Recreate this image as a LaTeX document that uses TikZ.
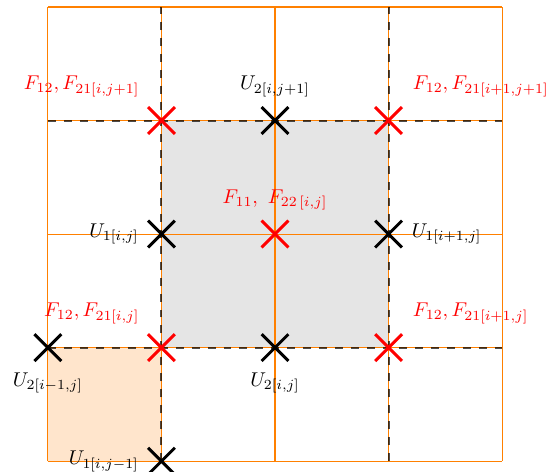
\documentclass[tikz,border=0pt]{standalone}
\usepackage{amsmath}
\usepackage{amssymb}
\usetikzlibrary{positioning,shapes.misc}

\begin{document}
\begin{tikzpicture}[
  crossblk/.style={cross out, draw=black, line width=1.5pt, minimum size=0.42cm, inner sep=0pt},
  crossred/.style={crossblk, draw=red},
  redlbl/.style={text=red},
  dashline/.style={black, opacity=0.7, line width=1pt, dash pattern=on 4pt off 4pt}
]

% Fixed margins
\useasboundingbox (-0.844,-0.176) rectangle (8.844,8.123);

% Shaded cells
\fill[black!10] (2,2) rectangle (6,6);
\fill[orange!20] (0,0) rectangle (2,2);

% Orange grid
\draw[orange, line width=0.52pt, step=2cm] (0,0) grid (8,8);

% Dashed cell edges
\draw[dashline] (2,0) -- (2,8);
\draw[dashline] (6,0) -- (6,8);
\draw[dashline] (0,2) -- (8,2);
\draw[dashline] (0,6) -- (8,6);

% Velocity points (black)
\node[crossblk] (c46) at (4,6) {};
\node[crossblk] (c24) at (2,4) {};
\node[crossblk] (c64) at (6,4) {};
\node[crossblk] (c02) at (0,2) {};
\node[crossblk] (c42) at (4,2) {};
\node[crossblk] (c20) at (2,0) {};

% Stress points (red)
\node[crossred] (c26) at (2,6) {};
\node[crossred] (c66) at (6,6) {};
\node[crossred] (c44) at (4,4) {};
\node[crossred] (c22) at (2,2) {};
\node[crossred] (c62) at (6,2) {};

% Labels
\node[redlbl, above left=0.06cm and 0.03cm of c26] (l26) {$F_{12}, F_{21[i,j+1]}$};
\node[above=0.06cm of c46] (l46) {$U_{2[i,j+1]}$};
\node[redlbl, above right=0.06cm and 0.07cm of c66] (l66) {$F_{12}, F_{21[i+1,j+1]}$};
\node[redlbl, above=0.06cm of c44] (l44) {$F_{11},\ F_{22\,[i,j]}$};
\node[left=0.04cm of c24] (l24) {$U_{1[i,j]}$};
\node[right=0.05cm of c64] (l64) {$U_{1[i+1,j]}$};
\node[redlbl, above left=0.06cm and 0.03cm of c22] (l22) {$F_{12}, F_{21[i,j]}$};
\node[redlbl, above right=0.06cm and 0.07cm of c62] (l62) {$F_{12}, F_{21[i+1,j]}$};
\node[below=0.08cm of c02] (l02) {$U_{2[i-1,j]}$};
\node[below=0.08cm of c42] (l42) {$U_{2[i,j]}$};
\node[left=0.04cm of c20] (l20) {$U_{1[i,j-1]}$};

\end{tikzpicture}
\end{document}
